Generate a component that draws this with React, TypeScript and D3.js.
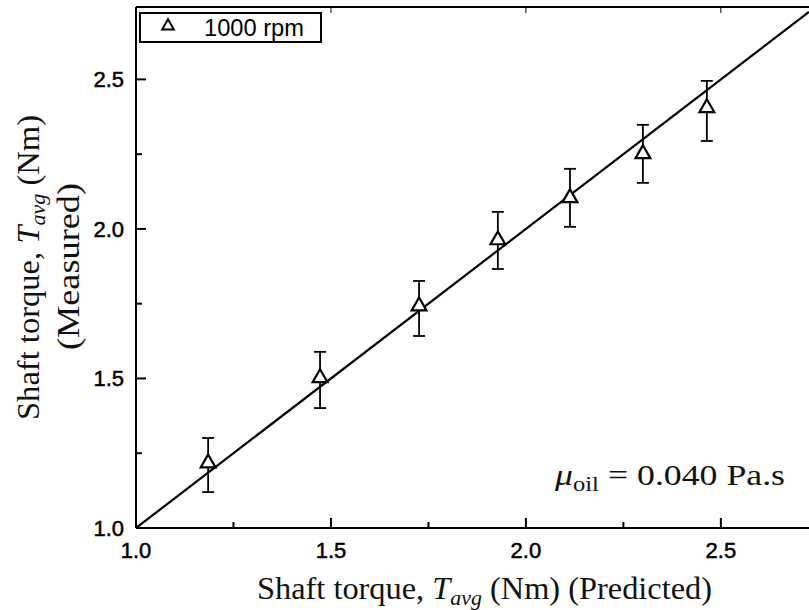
import React from "react";
import * as d3 from "d3";

const predicted = [1.185, 1.472, 1.726, 1.928, 2.113, 2.3, 2.464];
const measured = [1.217, 1.502, 1.742, 1.963, 2.104, 2.251, 2.405];
const errLow = [1.12, 1.401, 1.642, 1.866, 2.007, 2.154, 2.294];
const errHigh = [1.301, 1.589, 1.826, 2.057, 2.201, 2.348, 2.495];
const majorTicks = [1.0, 1.5, 2.0, 2.5];
const minorTicks = [1.25, 1.75, 2.25];
const fitLine = [1.0, 2.726];
const legendLabel = "1000 rpm";

const W = 809;
const H = 610;
const L = 136, R = 809, T = 7, B = 528;

export default function App() {
  const x = d3.scaleLinear().domain([1, 2.726]).range([L, R]);
  const y = d3.scaleLinear().domain([1, 2.742]).range([B, T]);
  const tri = d3.symbol().type(d3.symbolTriangle).size(95)();
  const legTri = d3.symbol().type(d3.symbolTriangle).size(60)();
  const line = d3.line<number>().x((v) => x(v)).y((v) => y(v));
  const sans = "'Liberation Sans', Arial, sans-serif";
  const serif = "'Liberation Serif', 'Times New Roman', serif";
  const lw = 2;
  return (
    <svg width={W} height={H} style={{ position: "absolute", left: 0, top: 0, background: "#fff" }}>
      <defs>
        <clipPath id="plot">
          <rect x={L} y={T} width={R - L} height={B - T} />
        </clipPath>
      </defs>
      {/* axes */}
      <line x1={L} x2={R} y1={B} y2={B} stroke="#000" strokeWidth={lw} />
      <line x1={L} x2={R} y1={T} y2={T} stroke="#000" strokeWidth={lw} />
      <line x1={L} x2={L} y1={T} y2={B} stroke="#000" strokeWidth={lw} />
      {majorTicks.map((t) => (
        <g key={"mx" + t}>
          <line x1={x(t)} x2={x(t)} y1={B} y2={B - 10} stroke="#000" strokeWidth={lw} />
          <line x1={x(t)} x2={x(t)} y1={T} y2={T + 6} stroke="#000" strokeWidth={1} />
          <text x={x(t)} y={558} textAnchor="middle" fontFamily={sans} fontSize={22} fill="#000" stroke="#000" strokeWidth={0.5}>
            {t.toFixed(1)}
          </text>
          <line x1={L} x2={L + 10} y1={y(t)} y2={y(t)} stroke="#000" strokeWidth={lw} />
          <text x={124} y={y(t) + 8} textAnchor="end" fontFamily={sans} fontSize={22} fill="#000" stroke="#000" strokeWidth={0.5}>
            {t.toFixed(1)}
          </text>
        </g>
      ))}
      {minorTicks.map((t) => (
        <g key={"mn" + t}>
          <line x1={x(t)} x2={x(t)} y1={B} y2={B - 6} stroke="#000" strokeWidth={lw} />
          <line x1={L} x2={L + 6} y1={y(t)} y2={y(t)} stroke="#000" strokeWidth={lw} />
        </g>
      ))}
      {/* fit line */}
      <path d={line(fitLine) || ""} stroke="#000" strokeWidth={2.2} fill="none" clipPath="url(#plot)" />
      {/* error bars and points */}
      {predicted.map((p, i) => (
        <g key={"pt" + i}>
          <line x1={x(p)} x2={x(p)} y1={y(errLow[i])} y2={y(errHigh[i])} stroke="#000" strokeWidth={1.8} />
          <line x1={x(p) - 6} x2={x(p) + 6} y1={y(errLow[i])} y2={y(errLow[i])} stroke="#000" strokeWidth={1.8} />
          <line x1={x(p) - 6} x2={x(p) + 6} y1={y(errHigh[i])} y2={y(errHigh[i])} stroke="#000" strokeWidth={1.8} />
          <path d={tri || ""} transform={`translate(${x(p)},${y(measured[i])})`} fill="#fff" stroke="#000" strokeWidth={2.2} />
        </g>
      ))}
      {/* legend */}
      <rect x={140} y={13} width={181} height={29} fill="#fff" stroke="#000" strokeWidth={2} />
      <path d={legTri || ""} transform="translate(168,26)" fill="#fff" stroke="#000" strokeWidth={2} />
      <text x={204} y={36} fontFamily={sans} fontSize={23} fill="#000" textLength={100} lengthAdjust="spacingAndGlyphs">{legendLabel}</text>
      {/* annotation */}
      <text x={555} y={485} fontFamily={serif} fontSize={29} fill="#111" textLength={230} lengthAdjust="spacingAndGlyphs">
        <tspan fontStyle="italic">μ</tspan>
        <tspan fontSize={20} dy={6}>oil</tspan>
        <tspan dy={-6}> = 0.040 Pa.s</tspan>
      </text>
      {/* x title */}
      <text x={257} y={599} fontFamily={serif} fontSize={31} fill="#111" textLength={455} lengthAdjust="spacingAndGlyphs">
        Shaft torque, <tspan fontStyle="italic">T</tspan>
        <tspan fontStyle="italic" fontSize={21} dy={6}>avg</tspan>
        <tspan dy={-6}> (Nm) (Predicted)</tspan>
      </text>
      {/* y title */}
      <g transform="translate(39,420) rotate(-90)">
        <text x={0} y={0} fontFamily={serif} fontSize={31} fill="#111" textLength={305} lengthAdjust="spacingAndGlyphs">
          Shaft torque, <tspan fontStyle="italic">T</tspan>
          <tspan fontStyle="italic" fontSize={21} dy={6}>avg</tspan>
          <tspan dy={-6}> (Nm)</tspan>
        </text>
      </g>
      <g transform="translate(79,350) rotate(-90)">
        <text x={0} y={0} fontFamily={serif} fontSize={31} fill="#111" textLength={167} lengthAdjust="spacingAndGlyphs">
          (Measured)
        </text>
      </g>
    </svg>
  );
}
